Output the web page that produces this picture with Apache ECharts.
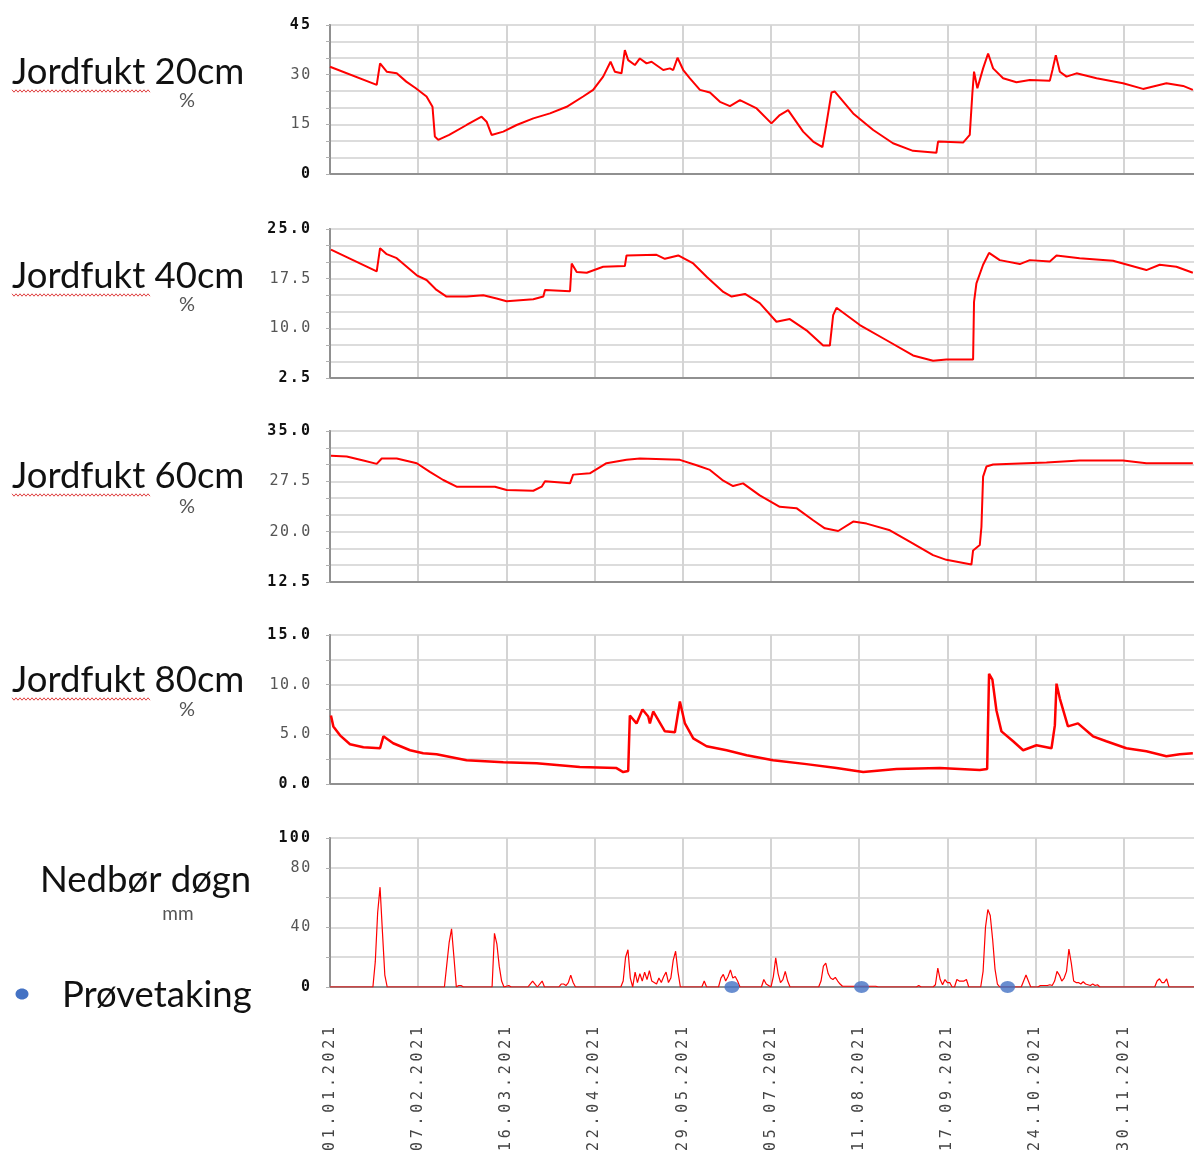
<!DOCTYPE html>
<html><head><meta charset="utf-8">
<script src="https://cdn.jsdelivr.net/npm/echarts@6/dist/echarts.min.js"></script>
<style>html,body{margin:0;padding:0;background:#fff}#c{width:1194px;height:1158px}</style>
</head><body><div id="c"></div>
<script>
// ---- data (day of year since 01.01.2021, value) ----
const tickLabels = ['01.01.2021','07.02.2021','16.03.2021','22.04.2021','29.05.2021','05.07.2021','11.08.2021','17.09.2021','24.10.2021','30.11.2021'];
const panelTitles = ['Jordfukt 20cm','Jordfukt 40cm','Jordfukt 60cm','Jordfukt 80cm','Nedbør døgn'];
const panelUnits = ['%','%','%','%','mm'];
const legendText = 'Prøvetaking';
const yMin = [0, 2.5, 12.5, 0, 0];
const yMax = [45, 25, 35, 15, 100];
const yStep = [5, 2.5, 2.5, 2.5, 20];
const yLabelValues = [[0,15,30,45],[2.5,10,17.5,25],[12.5,20,27.5,35],[0,5,10,15],[0,40,80,100]];
const yDecimals = [0,1,1,1,0];

const soil20 = [[0,32.4],[19.6,26.9],[21,33.4],[23.8,30.9],[28,30.4],[32,27.9],[36,25.9],[40.5,23.4],[43,20.3],[44,11.3],[45.4,10.3],[50,11.8],[57.3,14.8],[63.6,17.3],[65.7,15.8],[67.8,11.8],[72.7,12.8],[78.3,14.8],[85.3,16.8],[92.3,18.3],[99.3,20.3],[106.2,23.4],[110.4,25.4],[114.6,29.4],[117.7,33.9],[119.5,30.9],[122.3,30.4],[123.7,37.4],[125.1,34.4],[127.9,32.9],[130,34.9],[132.8,33.4],[134.9,33.9],[139.8,31.4],[142.6,31.9],[144,31.4],[145.8,35.1],[148.2,31.4],[151,28.9],[155.2,25.4],[159.4,24.6],[163.6,21.8],[167.8,20.5],[172,22.3],[179,19.8],[185.2,15.3],[188.7,17.8],[192.2,19.3],[198.5,12.8],[202.7,9.8],[206.6,8.1],[208.3,15.3],[210.4,24.6],[211.8,24.9],[219.5,18.3],[227.9,13.3],[236.2,9.3],[244.6,7.0],[254.4,6.4],[255.1,9.8],[265.6,9.5],[268.4,11.8],[269.5,24.4],[270.2,30.9],[271.6,25.9],[274,31.9],[276.1,36.4],[278.2,31.9],[282.4,28.9],[288,27.7],[293.6,28.4],[302,28.2],[303.1,31.4],[304.5,35.9],[306.2,30.9],[309,29.4],[313.2,30.4],[321.6,28.9],[332.7,27.4],[341.1,25.7],[350.9,27.4],[357.9,26.6],[362,25.4]];

const soil40 = [[0.4,21.9],[19.6,18.6],[21,22.1],[23.8,21.2],[28,20.6],[36.4,18.0],[40.5,17.3],[44.7,15.8],[48.9,14.8],[57.3,14.8],[64.3,15.0],[69.9,14.5],[74.1,14.1],[85.3,14.4],[89.5,14.8],[90.2,15.8],[100.7,15.6],[101.4,19.8],[103.5,18.5],[107.7,18.4],[114.6,19.3],[123.7,19.4],[124.4,21.0],[137,21.1],[140.5,20.5],[146.1,21.0],[152.4,19.8],[158,17.8],[165,15.5],[168.5,14.8],[174.1,15.2],[180.3,13.8],[187.3,11.0],[192.9,11.4],[199.9,9.7],[206.9,7.4],[209.7,7.4],[211.1,12.0],[212.5,13.1],[222.3,10.5],[233.5,8.2],[244.6,5.9],[253,5.1],[258.6,5.3],[269.8,5.3],[270.2,14.0],[271.2,16.8],[274,19.6],[276.5,21.4],[281,20.3],[289.4,19.7],[293.6,20.3],[302,20.1],[304.8,21.0],[314.5,20.6],[328.5,20.2],[342.5,18.8],[348.1,19.6],[355.1,19.3],[362,18.4]];

const soil60 = [[0.4,31.3],[7,31.2],[14,30.6],[19.6,30.1],[21.7,30.9],[28,30.9],[36.4,30.2],[41.9,28.9],[47.5,27.7],[53.1,26.7],[69.2,26.7],[74.1,26.2],[85.3,26.1],[88.8,26.7],[90.2,27.5],[100.7,27.2],[102,28.5],[109,28.7],[116,30.2],[124.4,30.7],[130,30.9],[146.8,30.7],[153.8,29.9],[159.4,29.2],[165,27.6],[169.1,26.8],[173.3,27.2],[180.3,25.4],[188.7,23.7],[195.7,23.5],[202.7,21.7],[207.6,20.5],[213.2,20.1],[219.5,21.5],[225.1,21.2],[234.9,20.2],[243.2,18.5],[253,16.5],[258.6,15.8],[269.1,15.1],[269.8,17.2],[272.6,18.0],[273.3,20.7],[274,28.2],[275.4,29.7],[278.2,30.0],[292.2,30.2],[300.6,30.3],[314.5,30.6],[332.7,30.6],[342.5,30.2],[362,30.2]];

const soil80 = [[0.4,6.9],[1.4,5.8],[4.2,4.9],[8.4,4.0],[14,3.7],[21,3.6],[22.4,4.8],[26.5,4.1],[33.6,3.4],[39.1,3.1],[44.7,3.0],[57.3,2.4],[72.7,2.2],[86.7,2.1],[104.8,1.7],[120.2,1.6],[123,1.2],[125.1,1.3],[125.8,6.9],[128.6,6.1],[131.1,7.5],[133.5,6.8],[134.2,6.1],[135.6,7.3],[140.5,5.3],[144.7,5.2],[146.8,8.3],[148.9,6.1],[152.4,4.6],[158,3.8],[166.4,3.4],[174.8,2.9],[185.9,2.4],[199.9,2.0],[212.5,1.6],[223.7,1.2],[237.7,1.5],[255.8,1.6],[272.6,1.4],[275.7,1.5],[276.5,11.1],[277.9,10.5],[279.6,7.4],[281.7,5.3],[286.6,4.3],[290.8,3.4],[296.4,3.9],[302.7,3.6],[304.1,5.9],[304.8,10.1],[306.2,8.6],[309.6,5.8],[313.8,6.1],[320.1,4.8],[325.7,4.3],[334.1,3.6],[342.5,3.3],[350.9,2.8],[356.5,3.0],[362,3.1]];

const rain = [[0,0],[18,0],[19,17],[20,50],[21,67],[22,37],[23,8],[24,0],
[48,0],[49,15],[50,30],[51,39],[52,20],[53,0],[54,1],[55,1],[56,0],
[68,0],[69,36],[70,29],[71,14],[72,4],[73,0],[75,1],[76,0],
[83,0],[84,2],[85,4],[86,2],[87,0],[89,4],[90,0],
[96,0],[97,2],[98,2],[99,1],[100,3],[101,8],[102,3],[103,0],
[122,0],[123,4],[124,20],[125,25],[126,6],[127,0],[128,10],[129,3],[130,9],[131,4],[132,10],[133,5],[134,11],[135,4],[136,3],[137,2],[138,6],[139,3],[140,7],[141,10],[142,3],[143,6],[144,18],[145,24],[146,10],[147,0],
[156,0],[157,4],[158,0],
[163,0],[164,6],[165,8.5],[166,4],[167,7],[168,11.5],[169,6],[170,7],[171,4],[172,0],
[181,0],[182,5],[183,2],[184,1],[185,0],[186,7],[187,19.5],[188,9],[189,3],[190,5],[191,10.5],[192,4],[193,0],
[205,0],[206,4],[207,14],[208,16],[209,9],[210,6],[211,5],[212,6.5],[213,4],[214,2],[215,0.5],[229,0.5],[230,0],
[246,0],[247,1],[248,0],
[253,0],[254,1.5],[255,12.7],[256,5],[257,1.5],[258,5],[259,3],[260,3],[261,0],
[262,0],[263,5],[264,4],[265,4],[266,4],[267,5],[268,0],
[273,0],[274,10.5],[275,40],[276,52],[277,48],[278,32],[279,12],[280,2],[281,0],
[290,0],[291,4],[292,8],[293,4],[294,0],
[297,0],[298,1],[301,1],[302,1.5],[303,1],[304,4],[305,10.5],[306,8],[307,4],[308,6],[309,10.5],[310,25.5],[311,16],[312,4],[313,3],[314,3],[315,2],[316,3.5],[317,2],[318,1.5],[319,1],[320,2],[321,1],[322,1.5],[323,0],
[346,0],[347,4],[348,5.5],[349,3],[350,3],[351,5.5],[352,0],[365,0]];

const sampleDays = [168.6, 223, 284.3];
const sampleValues = [0, 0, 0];

// ---- layout ----
const gridTops = [25, 229, 431, 635, 838];
const gridHeights = [149, 149, 151, 149, 149];
const titleY = [72, 276, 476, 680, 880];
const unitY = [101, 305, 507, 710, 914];

const chart = echarts.init(document.getElementById('c'), null, {renderer:'canvas'});

function charRich(s, st){ return s.split('').map(ch => '{' + st + '|' + ch + '}').join(''); }
function yFmt(i){
  return function(v){
    if(!yLabelValues[i].some(a => Math.abs(a - v) < 1e-6)) return '';
    const st = (Math.abs(v - yMin[i]) < 1e-6 || Math.abs(v - yMax[i]) < 1e-6) ? 'b' : 'n';
    return charRich(v.toFixed(yDecimals[i]), st);
  };
}

const grids = [], xAxes = [], yAxes = [], series = [];
const soilSeries = [soil20, soil40, soil60, soil80];
for(let i=0;i<5;i++){
  grids.push({left:330, width:870, top:gridTops[i], height:gridHeights[i], outerBoundsMode:'none', containLabel:false,
    show:true, borderColor:'#a0a0a0', borderWidth:2, backgroundColor:'transparent'});
  xAxes.push({
    type:'value', gridIndex:i, min:0, max:365, interval:37,
    axisLine:{show:true, onZero:false, lineStyle:{color:'#909090', width:2}},
    axisTick:{show:false},
    splitLine:{show:true, lineStyle:{color:'#d4d4d4', width:2}},
    axisLabel: i===4 ? {
      show:true, rotate:90, margin:38,
      formatter: v => { const k = Math.round(v/37); return (Math.abs(v - k*37) < 1e-6 && tickLabels[k]) ? charRich(tickLabels[k], 'c') : ''; },
      rich:{c:{fontFamily:'DejaVu Sans Mono', fontSize:15, color:'#444', width:12.8, align:'center'}}
    } : {show:false}
  });
  yAxes.push({
    type:'value', gridIndex:i, min:yMin[i], max:yMax[i], interval:yStep[i],
    axisLine:{show:true, lineStyle:{color:'#909090', width:2}},
    axisTick:{show:true, length:4, lineStyle:{color:'#b0b0b0'}},
    splitLine:{show:true, lineStyle:{color:'#dcdcdc', width:2}},
    axisLabel:{show:true, margin:19, formatter:yFmt(i),
      rich:{
        n:{fontFamily:'DejaVu Sans Mono', fontSize:15, color:'#555', width:10.6, align:'center'},
        b:{fontFamily:'DejaVu Sans Mono', fontSize:15, fontWeight:'bold', color:'#111', width:11.2, align:'center'}
      }}
  });
}
for(let i=0;i<4;i++){
  series.push({type:'line', xAxisIndex:i, yAxisIndex:i, data:soilSeries[i], showSymbol:false, symbol:'none',
    lineStyle:{color:'#ff0000', width: i===3 ? 2.5 : 2}, animation:false});
}
series.push({type:'line', xAxisIndex:4, yAxisIndex:4, data:rain, showSymbol:false, symbol:'none',
  lineStyle:{color:'#ff0000', width:1.2}, animation:false});
series.push({type:'scatter', xAxisIndex:4, yAxisIndex:4, data:sampleDays.map((d,k)=>[d, sampleValues[k]]),
  symbol:'circle', symbolSize:[15,12], itemStyle:{color:'#4472C4'}, clip:false, z:5, animation:false});

// left-hand labels
const graphics = [];
function wavy(x0, x1, y){
  const pts = []; let up = true;
  for(let x=x0; x<=x1; x+=2){ pts.push([x, up ? y-1.2 : y+1.2]); up = !up; }
  return {type:'polyline', shape:{points:pts}, style:{stroke:'#e04040', lineWidth:1, fill:null}, silent:true};
}
for(let i=0;i<4;i++){
  graphics.push({type:'text', x:12, y:titleY[i], style:{text:panelTitles[i], font:'36.5px Lato', fill:'#111', textVerticalAlign:'middle'}});
  graphics.push(wavy(12, 150, titleY[i]+19));
  graphics.push({type:'text', x:187, y:unitY[i], style:{text:panelUnits[i], font:'20px Lato', fill:'#555', textAlign:'center', textVerticalAlign:'middle'}});
}
graphics.push({type:'text', x:40, y:titleY[4], style:{text:panelTitles[4], font:'36.5px Lato', fill:'#111', textVerticalAlign:'middle'}});
graphics.push({type:'text', x:178, y:unitY[4], style:{text:panelUnits[4], font:'19px Lato', fill:'#555', textAlign:'center', textVerticalAlign:'middle'}});
graphics.push({type:'ellipse', shape:{cx:22, cy:994, rx:6.5, ry:5.5}, style:{fill:'#4472C4'}});
graphics.push({type:'text', x:62, y:995, style:{text:legendText, font:'36.5px Lato', fill:'#111', textVerticalAlign:'middle'}});

chart.setOption({
  animation:false,
  backgroundColor:'#ffffff',
  grid:grids, xAxis:xAxes, yAxis:yAxes, series:series,
  graphic:{elements:graphics}
});
</script></body></html>
